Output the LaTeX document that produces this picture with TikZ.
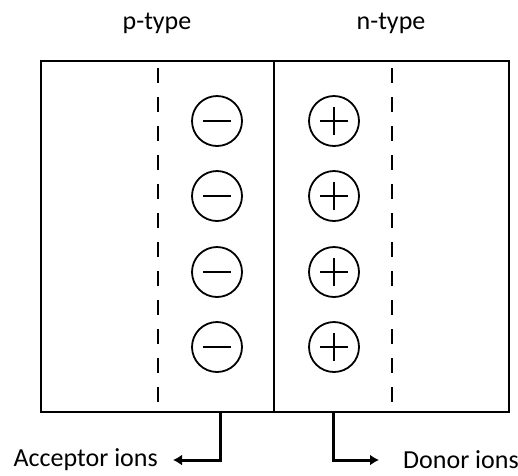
\documentclass[tikz,border=0pt]{standalone}
\usepackage{fontspec}
\setmainfont{Carlito}
\usetikzlibrary{arrows.meta}

\tikzset{
  ion/.style={circle,draw,line width=1.8pt,minimum size=50pt,inner sep=0pt},
  acceptor/.style={ion,path picture={
      \draw[line width=1.8pt] ([xshift=-14pt]path picture bounding box.center) -- ++(28pt,0);}},
  donor/.style={ion,path picture={
      \draw[line width=1.8pt] ([xshift=-14pt]path picture bounding box.center) -- ++(28pt,0);
      \draw[line width=1.8pt] ([yshift=-14pt]path picture bounding box.center) -- ++(0,28pt);}},
  edge/.style={dash pattern=on 15pt off 14pt,line width=1.4pt},
  ionarrow/.style={line width=3pt,-{Latex[length=9pt,width=11pt]}}
}

\begin{document}
\begin{tikzpicture}[x=1pt,y=-1pt,font=\fontsize{26}{30}\selectfont]
            \useasboundingbox (0,0) rectangle (518,475);

            % the junction
            \draw[line width=1.4pt] (41,61) rectangle (509,412);
            \draw[line width=1.4pt] (274,61) -- (274,412);

            % depletion region edges
            \draw[edge] (158,68) -- (158,402);
            \draw[edge] (392,68) -- (392,402);

            \node[anchor=base] (ptype) at (157,29) {p-type};
            \node[anchor=base] (ntype) at (391,29) {n-type};

            % fixed ions
            \foreach \y [count=\i] in {121,196,272,347} {
                \node[acceptor] (acc\i) at (217,\y) {};
                \node[donor] (don\i) at (334,\y) {};
            }

            \coordinate (accfoot) at (220,412);
            \coordinate (donfoot) at (333,412);

            \node[anchor=east,inner xsep=15pt,inner ysep=0pt] (acclabel) at (173,460) {Acceptor ions};
            \node[anchor=west,inner xsep=24pt,inner ysep=0pt] (donlabel) at (379,460) {Donor ions};

            \draw[ionarrow] (accfoot) |- (acclabel);
            \draw[ionarrow] (donfoot) |- (donlabel);
        \end{tikzpicture}
\end{document}
